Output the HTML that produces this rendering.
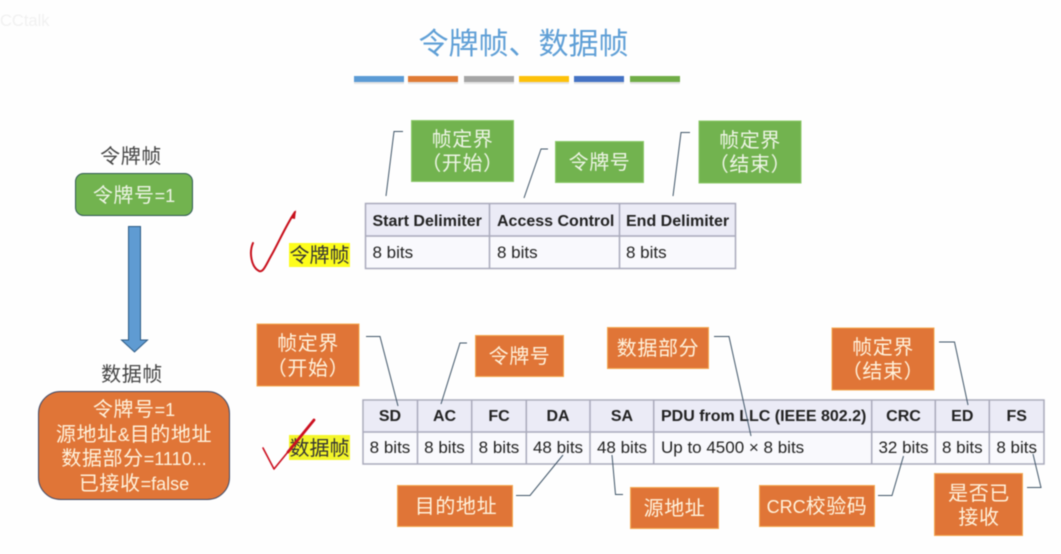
<!DOCTYPE html>
<html>
<head>
<meta charset="utf-8">
<style>
html,body{margin:0;padding:0;background:#fefefe;width:1061px;height:554px;overflow:hidden}
svg{display:block;filter:blur(.4px)}
text{font-family:"Liberation Sans","Noto Sans CJK SC",sans-serif}
.c{text-anchor:middle}
.w{fill:#fff2dc;font-size:20px;letter-spacing:.6px}
.g{fill:#eef5e6;font-size:20px;letter-spacing:.6px}
.d{fill:#444;font-size:20px;letter-spacing:.6px}
.h{font-size:16px;font-weight:bold;fill:#222}
.b{font-size:17px;fill:#222}
.s{font-size:18px;letter-spacing:0}
.l{fill:none;stroke:#3f5568;stroke-width:1}
.t{stroke:#a9aabb;stroke-width:1.5;fill:none}
.o{fill:#e07537;stroke:#f4a94f;stroke-width:1}
.gr{fill:#72b34f;stroke:#8cc96a;stroke-width:1}
</style>
</head>
<body>
<svg width="1061" height="554" viewBox="0 0 1061 554" xmlns="http://www.w3.org/2000/svg">
<rect width="1061" height="554" fill="#fefefe"/>
<text x="0" y="26" font-size="16.500" fill="#f1f1f1">CCtalk</text>

<text x="523.500" y="54" class="c" font-size="30" fill="#5f9fd6">令牌帧、数据帧</text>

<g>
<rect x="354" y="77" width="50" height="7" fill="#d8d8d8" opacity=".7"/>
<rect x="408" y="77" width="50" height="7" fill="#d8d8d8" opacity=".7"/>
<rect x="464" y="77" width="50" height="7" fill="#d8d8d8" opacity=".7"/>
<rect x="519" y="77" width="50" height="7" fill="#d8d8d8" opacity=".7"/>
<rect x="574" y="77" width="50" height="7" fill="#d8d8d8" opacity=".7"/>
<rect x="630" y="77" width="50" height="7" fill="#d8d8d8" opacity=".7"/>
<rect x="354" y="76" width="50" height="6" fill="#5b9bd5"/>
<rect x="408" y="76" width="50" height="6" fill="#e07b35"/>
<rect x="464" y="76" width="50" height="6" fill="#a5a5a5"/>
<rect x="519" y="76" width="50" height="6" fill="#fdc10a"/>
<rect x="574" y="76" width="50" height="6" fill="#4472c4"/>
<rect x="630" y="76" width="50" height="6" fill="#70ad47"/>
</g>

<!-- left column -->
<text x="131" y="163" class="c d">令牌帧</text>
<rect x="75.500" y="173.500" width="117" height="42" rx="8" fill="#72b34f" stroke="#2f5a55" stroke-width="1"/>
<text x="134" y="202" class="c g">令牌号<tspan class="s">=1</tspan></text>
<polygon points="128.500,226.500 140.500,226.500 140.500,340 147.500,340 134.500,352 121.500,340 128.500,340" fill="#5f9bd2" stroke="#2c5a84" stroke-width="1"/>
<text x="132" y="381" class="c d">数据帧</text>
<rect x="38.500" y="391.500" width="191" height="108" rx="22" fill="#e07537" stroke="#3f4a68" stroke-width="1"/>
<text x="134" y="416" class="c w">令牌号<tspan class="s">=1</tspan></text>
<text x="134" y="441" class="c w">源地址<tspan class="s">&amp;</tspan>目的地址</text>
<text x="134" y="465" class="c w">数据部分<tspan class="s">=1110...</tspan></text>
<text x="134" y="490" class="c w">已接收<tspan class="s">=false</tspan></text>

<!-- highlights -->
<rect x="289" y="243" width="61" height="24" fill="#fdfd1c"/>
<text x="319.500" y="262" class="c" font-size="20" fill="#333">令牌帧</text>
<rect x="289" y="435" width="61" height="25" fill="#f4f62a"/>
<text x="319.500" y="455" class="c" font-size="20" fill="#333">数据帧</text>

<!-- check marks -->
<path d="M253,243 C249,252 251,267 259,271 C263,273 266,265 271,256 C277,246 286,225 295,212" fill="none" stroke="#c8101c" stroke-width="2" stroke-linecap="round"/>
<path d="M290,218 L296,210 L295,219 Z" fill="#c8101c"/>
<path d="M263,448 L274,469 L314,420" fill="none" stroke="#cc1020" stroke-width="1.600" stroke-linecap="round" stroke-linejoin="round"/>
<path d="M288,452 L314,420" fill="none" stroke="#cc1020" stroke-width="2.800" stroke-linecap="round"/>

<!-- token table -->
<rect x="366" y="204" width="369.500" height="33" fill="#ebebf6"/>
<rect x="366" y="237" width="369.500" height="32" fill="#f9f9fd"/>
<rect x="365.500" y="203.500" width="370" height="65" class="t"/>
<path d="M365.500,236 H735.500 M489.500,203.500 V268.500 M619.500,203.500 V268.500" class="t"/>
<text x="372.500" y="226" class="h">Start Delimiter</text>
<text x="497" y="226" class="h">Access Control</text>
<text x="626" y="226" class="h">End Delimiter</text>
<text x="372.500" y="258" class="b">8 bits</text>
<text x="497" y="258" class="b">8 bits</text>
<text x="626" y="258" class="b">8 bits</text>

<!-- green callouts -->
<rect x="411.500" y="120.500" width="102" height="61" class="gr"/>
<text x="462.500" y="146" class="c g">帧定界</text>
<text x="462.500" y="170" class="c g">（开始）</text>
<rect x="555.500" y="141.500" width="88" height="41" class="gr"/>
<text x="599.500" y="169" class="c g">令牌号</text>
<rect x="699" y="121" width="102" height="62" class="gr"/>
<text x="750" y="147" class="c g">帧定界</text>
<text x="750" y="171" class="c g">（结束）</text>
<path d="M386,196 L394,131.500 H403" class="l"/>
<path d="M524,198 L541,149 H548" class="l"/>
<path d="M673,196 L681,132.500 H690" class="l"/>

<!-- data table -->
<rect x="364" y="401" width="680" height="31" fill="#ebebf6"/>
<rect x="364" y="432" width="680" height="32" fill="#f9f9fd"/>
<rect x="363" y="400" width="681" height="64" class="t"/>
<path d="M363,432 H1044 M417.500,400 V464 M471.700,400 V464 M526.300,400 V464 M590,400 V464 M653.700,400 V464 M871.700,400 V464 M935.300,400 V464 M989.300,400 V464" class="t"/>
<text x="390" y="421" class="c h">SD</text>
<text x="444.500" y="421" class="c h">AC</text>
<text x="499" y="421" class="c h">FC</text>
<text x="558" y="421" class="c h">DA</text>
<text x="622" y="421" class="c h">SA</text>
<text x="661" y="421" class="h">PDU from LLC (IEEE 802.2)</text>
<text x="903.500" y="421" class="c h">CRC</text>
<text x="962.300" y="421" class="c h">ED</text>
<text x="1016.700" y="421" class="c h">FS</text>
<text x="390" y="453" class="c b">8 bits</text>
<text x="444.500" y="453" class="c b">8 bits</text>
<text x="499" y="453" class="c b">8 bits</text>
<text x="558" y="453" class="c b">48 bits</text>
<text x="622" y="453" class="c b">48 bits</text>
<text x="661" y="453" class="b">Up to 4500 × 8 bits</text>
<text x="903.500" y="453" class="c b">32 bits</text>
<text x="962.300" y="453" class="c b">8 bits</text>
<text x="1016.700" y="453" class="c b">8 bits</text>

<!-- orange callouts -->
<rect x="257" y="324" width="102" height="62" class="o"/>
<text x="308" y="350" class="c w">帧定界</text>
<text x="308" y="375" class="c w">（开始）</text>
<rect x="475.500" y="335.500" width="88" height="41" class="o"/>
<text x="519.500" y="363" class="c w">令牌号</text>
<rect x="607.500" y="327.500" width="101" height="41" class="o"/>
<text x="658" y="355" class="c w">数据部分</text>
<rect x="832" y="328" width="102" height="62" class="o"/>
<text x="883" y="354" class="c w">帧定界</text>
<text x="883" y="378" class="c w">（结束）</text>
<rect x="397.500" y="485.500" width="115" height="41" class="o"/>
<text x="456" y="513" class="c w">目的地址</text>
<rect x="630.500" y="487.500" width="88" height="41" class="o"/>
<text x="674.500" y="515" class="c w">源地址</text>
<rect x="759.500" y="485.500" width="115" height="41" class="o"/>
<text x="817" y="513" class="c w"><tspan class="s">CRC</tspan>校验码</text>
<rect x="934.500" y="473.500" width="88" height="62" class="o"/>
<text x="979" y="500" class="c w">是否已</text>
<text x="979" y="524" class="c w">接收</text>

<!-- orange connectors -->
<path d="M366,336.500 H380 L398,406" class="l"/>
<path d="M467,343 H460 L441,404" class="l"/>
<path d="M714,336.500 H729 L751,436" class="l"/>
<path d="M939,342 H954.500 L968,405" class="l"/>
<path d="M516,495.500 H530 L563,455" class="l"/>
<path d="M612,455 L615.500,494.500 H623" class="l"/>
<path d="M878,495.500 H892 L903.500,456" class="l"/>
<path d="M1027,487.500 H1041 L1033,454" class="l"/>
</svg>
</body>
</html>
